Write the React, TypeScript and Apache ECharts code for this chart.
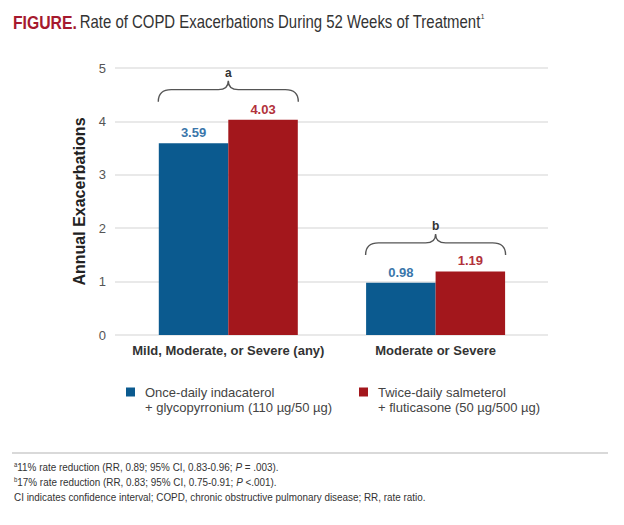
import React, { useEffect, useRef } from "react";
import * as echarts from "echarts";

const categories = ["Mild, Moderate, or Severe (any)", "Moderate or Severe"];
const seriesNames = [
  "Once-daily indacaterol\n+ glycopyrronium (110 µg/50 µg)",
  "Twice-daily salmeterol\n+ fluticasone (50 µg/500 µg)",
];
const onceDaily = [3.59, 0.98];
const twiceDaily = [4.03, 1.19];
const yMin = 0;
const yMax = 5;
const yInterval = 1;
const braceBase = [4.37, 1.5];
const braceLabels = ["a", "b"];
const titleLead = "FIGURE.";
const titleText = "Rate of COPD Exacerbations During 52 Weeks of Treatment";
const titleRef = "1";
const footnotes = [
  ["a", "11% rate reduction (RR, 0.89; 95% CI, 0.83-0.96; ", "P", " = .003)."],
  ["b", "17% rate reduction (RR, 0.83; 95% CI, 0.75-0.91; ", "P", " <.001)."],
  ["", "CI indicates confidence interval; COPD, chronic obstructive pulmonary disease; RR, rate ratio.", "", ""],
];

const BLUE = "#0b5a8f";
const RED = "#a3171c";
const SANS = "'Liberation Sans', Arial, Helvetica, sans-serif";
const BAR_W = 69.5;

export default function App() {
  const ref = useRef<HTMLDivElement>(null);
  useEffect(() => {
    if (!ref.current) return;
    const chart = echarts.init(ref.current, null, { renderer: "svg" });

    const braceData = braceBase.map((v, i) => [i, v]);

    const legendText = {
      fontSize: 13,
      color: "#444",
      lineHeight: 15,
      fontFamily: SANS,
      padding: [0, 0, 0, 5],
    };

    const option: any = {
      animation: false,
      backgroundColor: "#ffffff",
      textStyle: { fontFamily: SANS },
      grid: [
        { left: 115, width: 433, top: 68, height: 267, containLabel: false },
        { left: 124.65, width: 414.6, top: 68, height: 267, containLabel: false },
      ],
      legend: [
        {
          data: [seriesNames[0]],
          left: 126,
          top: 369.5,
          padding: 0,
          icon: "rect",
          itemWidth: 9,
          itemHeight: 9,
          formatter: (n: string) => "\n" + n,
          textStyle: legendText,
        },
        {
          data: [seriesNames[1]],
          left: 359,
          top: 369.5,
          padding: 0,
          icon: "rect",
          itemWidth: 9,
          itemHeight: 9,
          formatter: (n: string) => "\n" + n,
          textStyle: legendText,
        },
      ],
      xAxis: [
        { type: "value", gridIndex: 0, show: false, min: 0, max: 1 },
        {
          type: "category",
          gridIndex: 1,
          data: categories,
          axisLine: { show: false },
          axisTick: { show: false },
          axisLabel: { interval: 0, margin: 9, fontSize: 13, fontWeight: "bold", color: "#333", fontFamily: SANS },
        },
      ],
      yAxis: [
        {
          type: "value",
          gridIndex: 0,
          min: yMin,
          max: yMax,
          interval: yInterval,
          axisLine: { show: false },
          axisTick: { show: false },
          axisLabel: { margin: 9, fontSize: 13, color: "#555", fontFamily: SANS },
          splitLine: { show: true, lineStyle: { color: "#e2e2e2", width: 1.5 } },
          name: "Annual Exacerbations",
          nameLocation: "middle",
          nameGap: 28,
          nameTextStyle: { fontSize: 16, fontWeight: "bold", color: "#222", fontFamily: SANS },
        },
        { type: "value", gridIndex: 1, min: yMin, max: yMax, interval: yInterval, show: false },
      ],
      series: [
        {
          name: seriesNames[0],
          type: "bar",
          xAxisIndex: 1,
          yAxisIndex: 1,
          data: onceDaily,
          barWidth: BAR_W,
          barGap: "0%",
          itemStyle: { color: BLUE },
          label: {
            show: true,
            position: "top",
            distance: 4,
            fontSize: 13,
            fontWeight: "bold",
            color: "#3a76aa",
            fontFamily: SANS,
            formatter: (p: any) => p.value.toFixed(2),
          },
        },
        {
          name: seriesNames[1],
          type: "bar",
          xAxisIndex: 1,
          yAxisIndex: 1,
          data: twiceDaily,
          barWidth: BAR_W,
          barGap: "0%",
          itemStyle: { color: RED },
          label: {
            show: true,
            position: "top",
            distance: 4,
            fontSize: 13,
            fontWeight: "bold",
            color: "#b2313b",
            fontFamily: SANS,
            formatter: (p: any) => p.value.toFixed(2),
          },
        },
        {
          type: "custom",
          xAxisIndex: 1,
          yAxisIndex: 1,
          data: braceData,
          silent: true,
          renderItem: (params: any, api: any) => {
            const c = api.coord([api.value(0), api.value(1)]);
            const cx = c[0];
            const yb = c[1];
            const x0 = cx - BAR_W - 0.5;
            const x1 = cx + BAR_W + 0.5;
            const yf = yb - 12;
            const yp = yb - 21;
            const r = 13;
            const d =
              `M${x0},${yb} Q${x0},${yf} ${x0 + r},${yf} L${cx - 10},${yf} ` +
              `Q${cx},${yf} ${cx},${yp} Q${cx},${yf} ${cx + 10},${yf} ` +
              `L${x1 - r},${yf} Q${x1},${yf} ${x1},${yb}`;
            return {
              type: "group",
              children: [
                {
                  type: "path",
                  shape: { pathData: d },
                  style: { stroke: "#555", fill: "none", lineWidth: 1.4 },
                },
                {
                  type: "text",
                  x: cx,
                  y: yp - 8,
                  style: {
                    text: braceLabels[params.dataIndex],
                    fontSize: 12,
                    fontWeight: "bold",
                    fill: "#333",
                    align: "center",
                    verticalAlign: "middle",
                    fontFamily: SANS,
                  },
                },
              ],
            };
          },
        },
      ],
      graphic: [
        {
          type: "text",
          x: 13,
          y: 22,
          scaleX: 0.83,
          style: {
            text: `{a|${titleLead}} {b|${titleText}}{c|${titleRef}}`,
            verticalAlign: "middle",
            rich: {
              a: { fontFamily: SANS, fontWeight: "bold", fontSize: 19, fill: "#a6192e" },
              b: { fontFamily: SANS, fontWeight: "normal", fontSize: 18, fill: "#333333" },
              c: { fontFamily: SANS, fontSize: 8, fill: "#333333", verticalAlign: "top" },
            },
          },
        },
        {
          type: "line",
          shape: { x1: 12, y1: 453, x2: 608, y2: 453 },
          style: { stroke: "#cccccc", lineWidth: 1.5 },
        },
        ...footnotes.map((f, i) => ({
          type: "text",
          x: 14,
          y: 467 + i * 15,
          scaleX: 0.86,
          style: {
            verticalAlign: "middle",
            text:
              (f[0] ? `{s|${f[0]}}` : "") +
              `{t|${f[1]}}` +
              (f[2] ? `{i|${f[2]}}` : "") +
              (f[3] ? `{t|${f[3]}}` : ""),
            rich: {
              s: { fontSize: 7, fontFamily: SANS, fill: "#333", verticalAlign: "top" },
              t: { fontSize: 11.5, fontFamily: SANS, fill: "#333" },
              i: { fontSize: 11.5, fontFamily: SANS, fill: "#333", fontStyle: "italic" },
            },
          },
        })),
      ],
    };

    chart.setOption(option);
    return () => chart.dispose();
  }, []);

  return (
    <div
      ref={ref}
      style={{ position: "fixed", left: 0, top: 0, width: 624, height: 525 }}
    />
  );
}
